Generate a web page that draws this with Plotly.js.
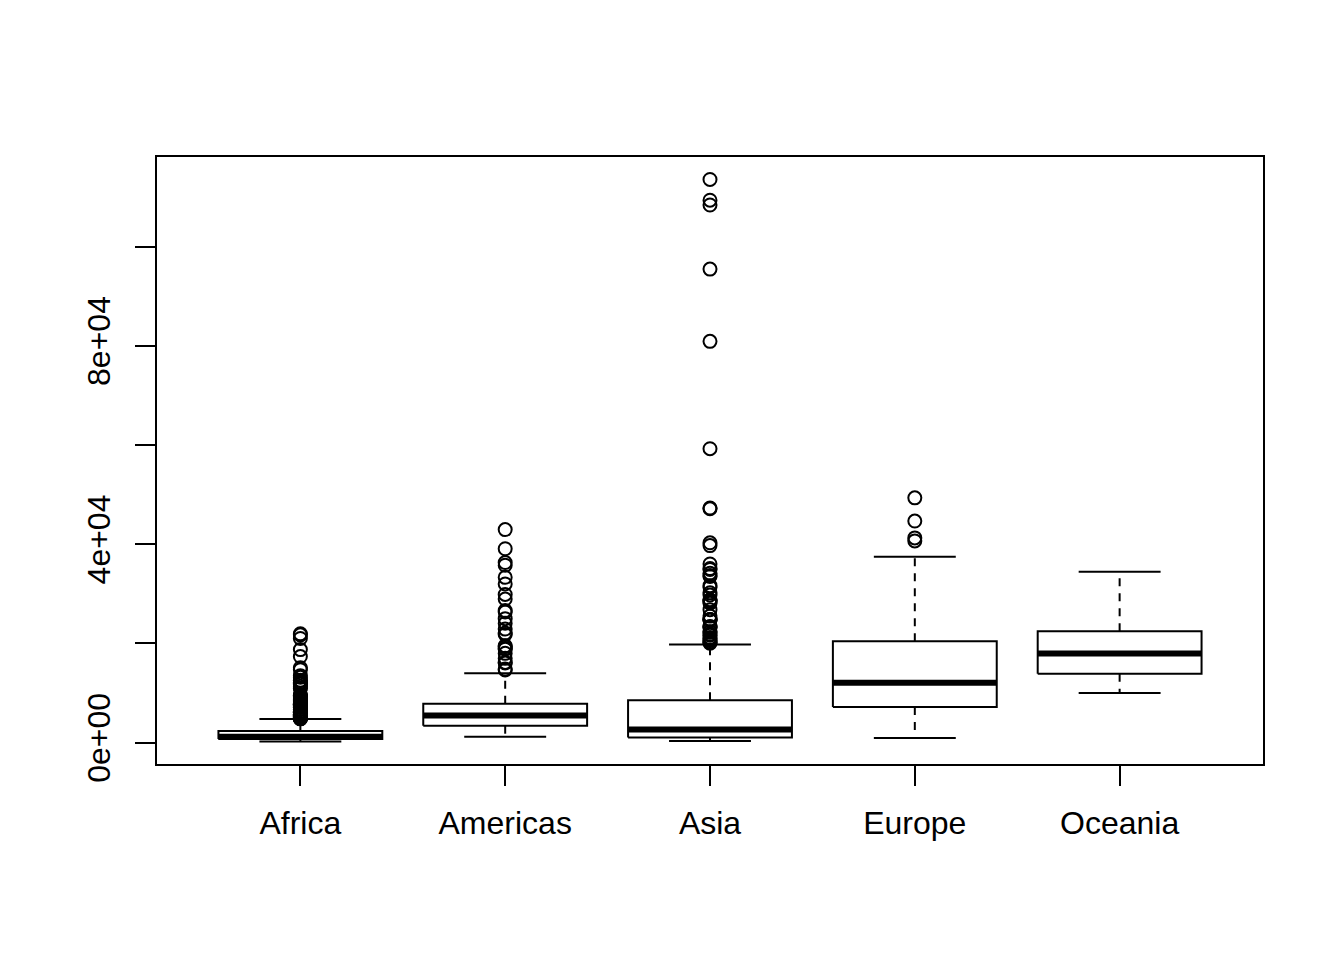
<!DOCTYPE html>
<html>
<head>
<meta charset="utf-8">
<script src="https://cdn.plot.ly/plotly-3.0.1.min.js"></script>
<style>html,body{margin:0;padding:0;background:#fff;}#chart{width:1344px;height:960px;}</style>
</head>
<body>
<div id="chart"></div>
<script>
// Categories and box statistics (GDP per capita by continent)
const continents = ["Africa", "Americas", "Asia", "Europe", "Oceania"];
const lowerWhisker = [241.17, 1201.64, 331.0, 973.53, 10039.6];
const q1 = [761.25, 3427.78, 1057.0, 7213.09, 13900.0];
const medians = [1192.14, 5465.51, 2646.79, 12081.75, 17983.3];
const q3 = [2377.42, 7830.21, 8549.26, 20461.39, 22450.0];
const upperWhisker = [4797.3, 13990.48, 19774.84, 37506.42, 34435.37];

// Outliers per continent
const africaOut = [6757.03, 18772.75, 21011.5, 21951.21, 17364.28, 11770.59, 9640.14, 9467.45, 9534.68, 12057.5,
  4976.2, 6631.46, 8358.76, 11401.95, 21745.57, 15113.36, 11864.41, 13522.16, 14722.84, 12521.71, 13206.48,
  5487.1, 5768.73, 7114.48, 7765.96, 8028.65, 8568.27, 7825.82, 7225.07, 7479.19, 7710.95, 9269.66,
  6205.88, 7954.11, 8647.14, 11003.61, 12569.85, 6058.25, 7425.71, 9021.82, 10956.99, 7703.5, 12154.09,
  4910.42, 5745.16, 5681.36, 5023.22, 5288.04, 6223.37, 5047.66, 5267.22, 5303.38, 6101.26, 6071.94, 6316.17, 7670.12,
  4876.8, 5722.9, 7092.92, 4811.06, 5581.18, 5522.78, 5473.29, 4879.51];
const americasOut = [14847.13, 16173.15, 19530.37, 21806.04, 24072.63, 25009.56, 29884.35, 32003.93, 35767.43, 39097.1, 42951.65,
  16076.59, 18970.57, 22090.88, 22898.79, 26626.52, 26342.88, 28954.93, 33328.97, 36319.24,
  14641.59, 16999.43, 18855.61, 19328.71, 18008.51];
const asiaOut = [108382.35, 113523.13, 95458.11, 80894.88, 109347.87, 59265.48, 31354.04, 28118.43, 34932.92, 40300.62, 35110.11, 47306.99,
  24837.43, 34167.76, 33693.18, 21198.26, 24841.62, 20586.69, 21654.83,
  47143.18, 36023.1, 33519.48, 24769.89, 31656.07, 28604.59, 28816.58, 26824.9, 22375.94,
  39724.98, 30209.02, 28377.63, 24757.6, 20038.47, 29796.05, 23403.56, 20292.02,
  28718.28, 23235.42, 20206.82, 25523.28, 21905.6, 20896.61, 23348.14, 22316.19];
const europeOut = [49357.19, 44683.98, 41283.16, 40675.99];
const oceaniaOut = [];
const outliers = [africaOut, americasOut, asiaOut, europeOut, oceaniaOut];

const yTickVals = [0, 20000, 40000, 60000, 80000, 100000];
const yTickText = ["0e+00", "", "4e+04", "", "8e+04", ""];

// Build traces from the arrays
const boxHalf = 0.4, capHalf = 0.2;
const rectX = [], rectY = [], medX = [], medY = [], whX = [], whY = [], capX = [], capY = [], outX = [], outY = [];
continents.forEach((c, i) => {
  const p = i + 1;
  rectX.push(p - boxHalf, p + boxHalf, p + boxHalf, p - boxHalf, p - boxHalf, null);
  rectY.push(q1[i], q1[i], q3[i], q3[i], q1[i], null);
  medX.push(p - boxHalf, p + boxHalf, null);
  medY.push(medians[i], medians[i], null);
  whX.push(p, p, null, p, p, null);
  whY.push(q3[i], upperWhisker[i], null, q1[i], lowerWhisker[i], null);
  capX.push(p - capHalf, p + capHalf, null, p - capHalf, p + capHalf, null);
  capY.push(upperWhisker[i], upperWhisker[i], null, lowerWhisker[i], lowerWhisker[i], null);
  outliers[i].forEach(v => { outX.push(p); outY.push(v); });
});

const black = "#000000";
const traces = [
  {type: "scatter", mode: "lines", x: whX, y: whY, line: {color: black, width: 2, dash: "8px,7px"}, hoverinfo: "skip"},
  {type: "scatter", mode: "lines", x: capX, y: capY, line: {color: black, width: 2}, hoverinfo: "skip"},
  {type: "scatter", mode: "lines", x: rectX, y: rectY, line: {color: black, width: 2}, fill: "none", hoverinfo: "skip"},
  {type: "scatter", mode: "lines", x: medX, y: medY, line: {color: black, width: 6}, hoverinfo: "skip"},
  {type: "scatter", mode: "markers", x: outX, y: outY,
   marker: {symbol: "circle-open", size: 13, color: black, line: {width: 2, color: black}}, hoverinfo: "y"}
];

const layout = {
  width: 1344, height: 960,
  paper_bgcolor: "#ffffff", plot_bgcolor: "#ffffff",
  showlegend: false,
  margin: {l: 157, r: 81, t: 157, b: 196},
  font: {family: "Liberation Sans, Arial, sans-serif", size: 32, color: black},
  xaxis: {
    range: [0.3, 5.7], tickvals: [1, 2, 3, 4, 5], ticktext: continents,
    showline: true, mirror: true, linecolor: black, linewidth: 2,
    ticks: "outside", ticklen: 20, tickwidth: 2, tickcolor: black,
    showgrid: false, zeroline: false, ticklabelstandoff: 10,
    tickfont: {size: 32, color: black}
  },
  yaxis: {
    range: [-4290.1, 118054.4], tickvals: yTickVals, ticktext: yTickText,
    showline: true, mirror: true, linecolor: black, linewidth: 2,
    ticks: "outside", ticklen: 20, tickwidth: 2, tickcolor: black,
    showgrid: false, zeroline: false, tickangle: -90, ticklabelstandoff: 12,
    tickfont: {size: 32, color: black}
  }
};

Plotly.newPlot("chart", traces, layout, {staticPlot: true, displayModeBar: false});
</script>
</body>
</html>
